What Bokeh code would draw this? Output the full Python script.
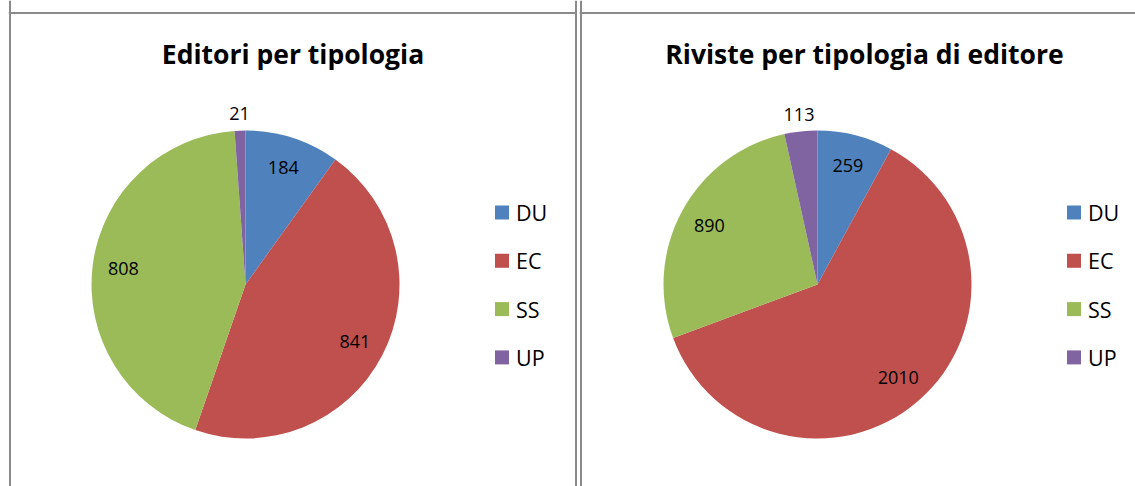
import math
from bokeh.plotting import figure
from bokeh.layouts import row, Spacer
from bokeh.models import Range1d, Span, ColumnDataSource
from bokeh.core.properties import value
from bokeh.embed import file_html
from bokeh.resources import INLINE

# ---- data ----
categories = ["DU", "EC", "SS", "UP"]
editori_values = [184, 841, 808, 21]
riviste_values = [259, 2010, 890, 113]
title_left = "Editori per tipologia"
title_right = "Riviste per tipologia di editore"
colors = ["#4F81BD", "#C0504D", "#9BBB59", "#8064A2"]

FONT = "Open Sans"
BORDER = "#8a8a8a"
H = 486


def panel(x0, x1, border_xs, values, title, title_x, pie_cx, legend_sq_x):
    p = figure(width=x1 - x0, height=H, output_backend="svg", toolbar_location=None,
               x_axis_location=None, y_axis_location=None,
               x_range=Range1d(x0, x1), y_range=Range1d(-H, 0),
               min_border=0, outline_line_color=None, tools="")
    p.grid.visible = False
    p.background_fill_color = "white"
    p.border_fill_color = "white"

    # panel borders
    for bx in border_xs:
        p.add_layout(Span(location=bx, dimension="height", line_color=BORDER, line_width=2))
    p.add_layout(Span(location=-12.5, dimension="width", line_color=BORDER, line_width=2))

    cy = -284
    r = 154
    total = float(sum(values))
    starts, ends, lx, ly, labs = [], [], [], [], []
    cum = 0.0
    for v in values:
        a0 = cum / total * 2 * math.pi
        cum += v
        a1 = cum / total * 2 * math.pi
        starts.append(math.pi / 2 - a0)
        ends.append(math.pi / 2 - a1)
        mid = math.pi / 2 - (a0 + a1) / 2
        k = 0.8 if v / total >= 0.05 else 1.11
        lx.append(pie_cx + k * r * math.cos(mid))
        ly.append(cy + k * r * math.sin(mid))
        labs.append(str(v))

    src = ColumnDataSource(dict(start=starts, end=ends, color=colors, cat=categories))
    p.wedge(x=pie_cx, y=cy, radius=r, start_angle="start", end_angle="end",
            direction="clock", fill_color="color", line_color=None, source=src)

    p.text(x=lx, y=ly, text=labs, text_font=value(FONT), text_font_size="18px",
           text_align="center", text_baseline="middle", text_color="black")

    # title
    p.text(x=[title_x], y=[-53], text=[title], text_font=value(FONT),
           text_font_style="bold", text_font_size="26.5px", text_align="center",
           text_baseline="middle", text_color="black")

    # legend
    ly0 = -212
    step = 48.3
    ys = [ly0 - i * step for i in range(len(categories))]
    p.rect(x=[legend_sq_x] * len(categories), y=ys, width=14, height=14,
           fill_color=colors, line_color=None)
    p.text(x=[legend_sq_x + 14] * len(categories), y=ys, text=categories,
           text_font=value(FONT), text_font_size="21.5px", text_align="left",
           text_baseline="middle", text_color="black")
    return p


p1 = panel(8, 577, [9.5, 575.5], editori_values, title_left, 292.5, 245, 501.5)
p2 = panel(579, 1135, [580.5], riviste_values, title_right, 864, 817, 1073.5)

layout = row(Spacer(width=8, height=H), p1, Spacer(width=2, height=H), p2, spacing=0)
open("out.html", "w").write(file_html(layout, INLINE))
